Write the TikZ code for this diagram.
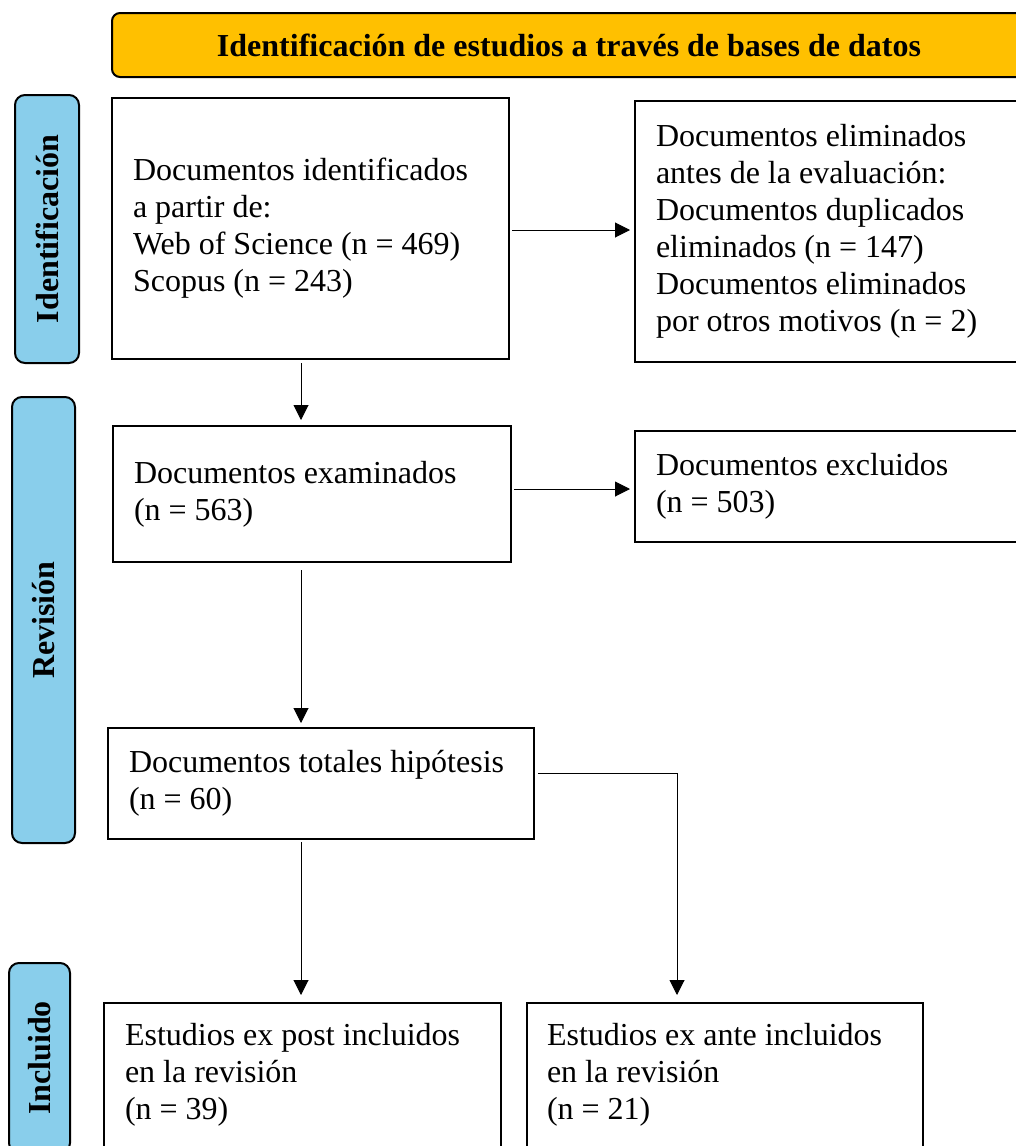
\documentclass[tikz,border=0pt]{standalone}
\usepackage{fontspec}
\setmainfont{Liberation Serif}
\usetikzlibrary{arrows.meta}
\definecolor{titlegold}{RGB}{255,192,0}
\definecolor{phaseblue}{RGB}{137,206,235}
\newcommand{\boxfont}{\fontsize{32}{37}\selectfont}
\newcommand{\headfont}{\bfseries\fontsize{32}{36}\selectfont}
\tikzset{
  flowbox/.style={draw, line width=2pt, anchor=north west, align=flush left, inner xsep=21pt, font=\boxfont},
  phase/.style={draw, line width=2pt, fill=phaseblue, rounded corners=10pt, rotate=90, font=\headfont},
  arr/.style={-{Triangle[length=15pt,width=15pt]}, line width=1pt},
}
\begin{document}
\begin{tikzpicture}[x=1pt,y=-1pt]
\useasboundingbox (0,0) rectangle (1016,1146);

% header
\node[draw, line width=2pt, fill=titlegold, rounded corners=8pt, minimum width=914, minimum height=64, font=\headfont] (head) at (569,45) {Identificación de estudios a través de bases de datos};

% phases
\node[phase, minimum width=268, minimum height=64] (pid) at (47,229) {Identificación};
\node[phase, minimum width=446, minimum height=63] (prev) at (43.5,620) {Revisión};
\node[phase, minimum width=190, minimum height=61] (pinc) at (39.5,1058) {Incluido};

% boxes
\node[flowbox, minimum width=397, minimum height=261, text width=355] (ident) at (111,97)
  {Documentos identificados\\a partir de:\\Web of Science (n = 469)\\Scopus (n = 243)};
\node[flowbox, minimum width=406, minimum height=261, text width=364] (removed) at (634,100)
  {Documentos eliminados\\antes de la evaluación:\\Documentos duplicados\\eliminados (n = 147)\\Documentos eliminados\\por otros motivos (n = 2)};
\node[flowbox, minimum width=398, minimum height=136, text width=356] (screened) at (112,425)
  {Documentos examinados\\(n = 563)};
\node[flowbox, minimum width=406, minimum height=111, text width=364] (excluded) at (634,430)
  {Documentos excluidos\\(n = 503)};
\node[flowbox, minimum width=426, minimum height=111, text width=384] (total) at (107,727)
  {Documentos totales hipótesis\\(n = 60)};
\node[flowbox, minimum width=397, minimum height=173, text width=355] (expost) at (103,1002)
  {Estudios ex post incluidos\\en la revisión\\(n = 39)\\\mbox{}};
\node[flowbox, minimum width=396, minimum height=173, text width=356, inner xsep=20pt] (exante) at (526,1002)
  {Estudios ex ante incluidos\\en la revisión\\(n = 21)\\\mbox{}};

% connectors
\coordinate (c1) at (301,0);
\coordinate (c2) at (677,0);
\coordinate (r1) at (0,230);
\coordinate (r2) at (0,489);
\coordinate (r3) at (0,773);
\draw[arr, shorten <=2pt, shorten >=4pt] (ident.east |- r1) -- (removed.west |- r1);
\draw[arr, shorten <=3pt, shorten >=5pt] (ident.south -| c1) -- (screened.north -| c1);
\draw[arr, shorten <=2pt, shorten >=4pt] (screened.east |- r2) -- (excluded.west |- r2);
\draw[arr, shorten <=7pt, shorten >=4pt] (screened.south -| c1) -- (total.north -| c1);
\draw[arr, shorten <=2pt, shorten >=7pt] (total.south -| c1) -- (expost.north -| c1);
\draw[arr, shorten <=3pt, shorten >=7pt] (total.east |- r3) -| (exante.north -| c2);
\end{tikzpicture}
\end{document}
